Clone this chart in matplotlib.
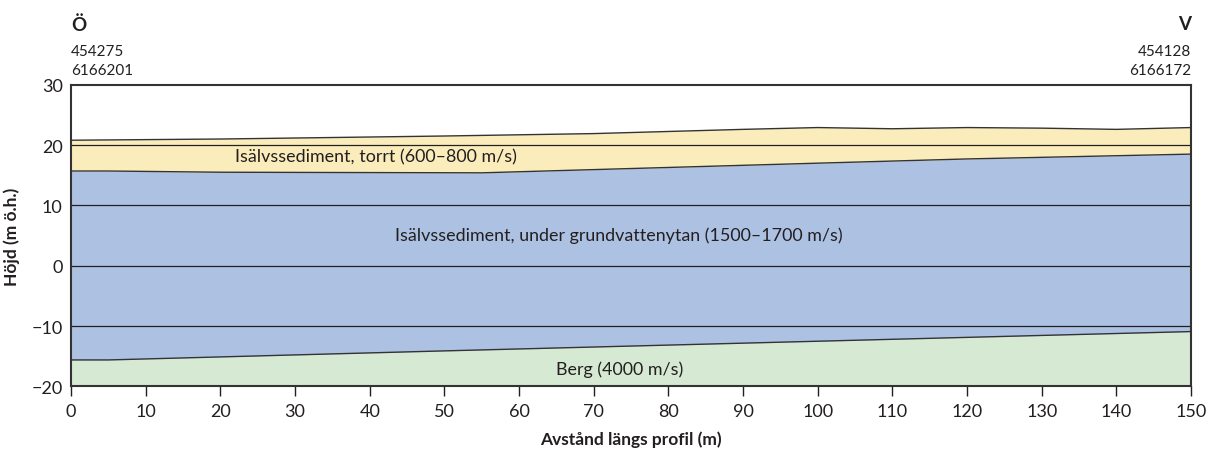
import numpy as np
import matplotlib.pyplot as plt

plt.rcParams['font.family'] = ['Lato', 'DejaVu Sans']

# profile data (m along profile, m a.s.l.)
dist_top = [0, 20, 50, 70, 90, 100, 110, 120, 130, 140, 150]
ground = [20.8, 21.0, 21.5, 21.9, 22.6, 22.9, 22.7, 22.9, 22.8, 22.6, 22.9]

dist_wt = [0, 5, 20, 55, 100, 120, 150]
dry_wet = [15.7, 15.7, 15.5, 15.4, 17.0, 17.7, 18.5]

dist_rock = [0, 5, 50, 100, 150]
rock = [-15.6, -15.6, -14.1, -12.5, -10.9]

xticks = list(range(0, 151, 10))
yticks = [-20, -10, 0, 10, 20, 30]

layer_labels = ["Isälvssediment, torrt (600–800 m/s)",
                "Isälvssediment, under grundvattenytan (1500–1700 m/s)",
                "Berg (4000 m/s)"]

yellow = '#fbedbb'
blue = '#adc2e3'
green = '#d6e9d3'
ink = '#231f20'

fig = plt.figure(figsize=(12.06, 4.52), dpi=100)
ax = fig.add_axes([0.0589, 0.1427, 0.9287, 0.6677])

x = np.linspace(0, 150, 601)
g = np.interp(x, dist_top, ground)
w = np.interp(x, dist_wt, dry_wet)
r = np.interp(x, dist_rock, rock)

ax.fill_between(x, -20, r, color=green, lw=0, zorder=1)
ax.fill_between(x, r, w, color=blue, lw=0, zorder=1)
ax.fill_between(x, w, g, color=yellow, lw=0, zorder=1)
for xx, yy in [(dist_top, ground), (dist_wt, dry_wet), (dist_rock, rock)]:
    ax.plot(xx, yy, color='#333333', lw=1.0, zorder=3)

for yv in [-10, 0, 10, 20]:
    ax.axhline(yv, color=ink, lw=0.9, zorder=2)

fs = 12.9
ax.text(40.8, 18.1, layer_labels[0], ha='center', va='center', fontsize=fs, color=ink, zorder=4)
ax.text(73.4, 5.2, layer_labels[1], ha='center', va='center', fontsize=fs, color=ink, zorder=4)
ax.text(73.5, -17.1, layer_labels[2], ha='center', va='center', fontsize=fs, color=ink, zorder=4)

ax.set_xlim(0, 150)
ax.set_ylim(-20, 30)
ax.set_xticks(xticks)
ax.set_yticks(yticks)
ax.set_yticklabels([str(v).replace('-', '−') for v in yticks])
ax.tick_params(axis='x', direction='out', length=7, width=1, color=ink, labelsize=13, labelcolor=ink, pad=5)
ax.tick_params(axis='y', length=0, labelsize=13, labelcolor=ink, pad=6)
for s in ax.spines.values():
    s.set_color('#333333')
    s.set_linewidth(1.5)
    s.set_zorder(5)

ax.set_xlabel("Avstånd längs profil (m)", fontsize=12.5, fontweight='bold', color=ink, labelpad=8)
ax.set_ylabel("Höjd (m ö.h.)", fontsize=12.5, fontweight='bold', color=ink, labelpad=8)

# end point markers
fig.text(71 / 1206, 1 - 25 / 452, "Ö", fontsize=13.5, fontweight='bold', color=ink, ha='left', va='center')
fig.text(71 / 1206, 1 - 52 / 452, "454275", fontsize=11, color=ink, ha='left', va='center')
fig.text(71 / 1206, 1 - 71 / 452, "6166201", fontsize=11, color=ink, ha='left', va='center')
fig.text(1191 / 1206, 1 - 25 / 452, "V", fontsize=13.5, fontweight='bold', color=ink, ha='right', va='center')
fig.text(1191 / 1206, 1 - 52 / 452, "454128", fontsize=11, color=ink, ha='right', va='center')
fig.text(1191 / 1206, 1 - 71 / 452, "6166172", fontsize=11, color=ink, ha='right', va='center')

fig.savefig('out.png', dpi=100)
